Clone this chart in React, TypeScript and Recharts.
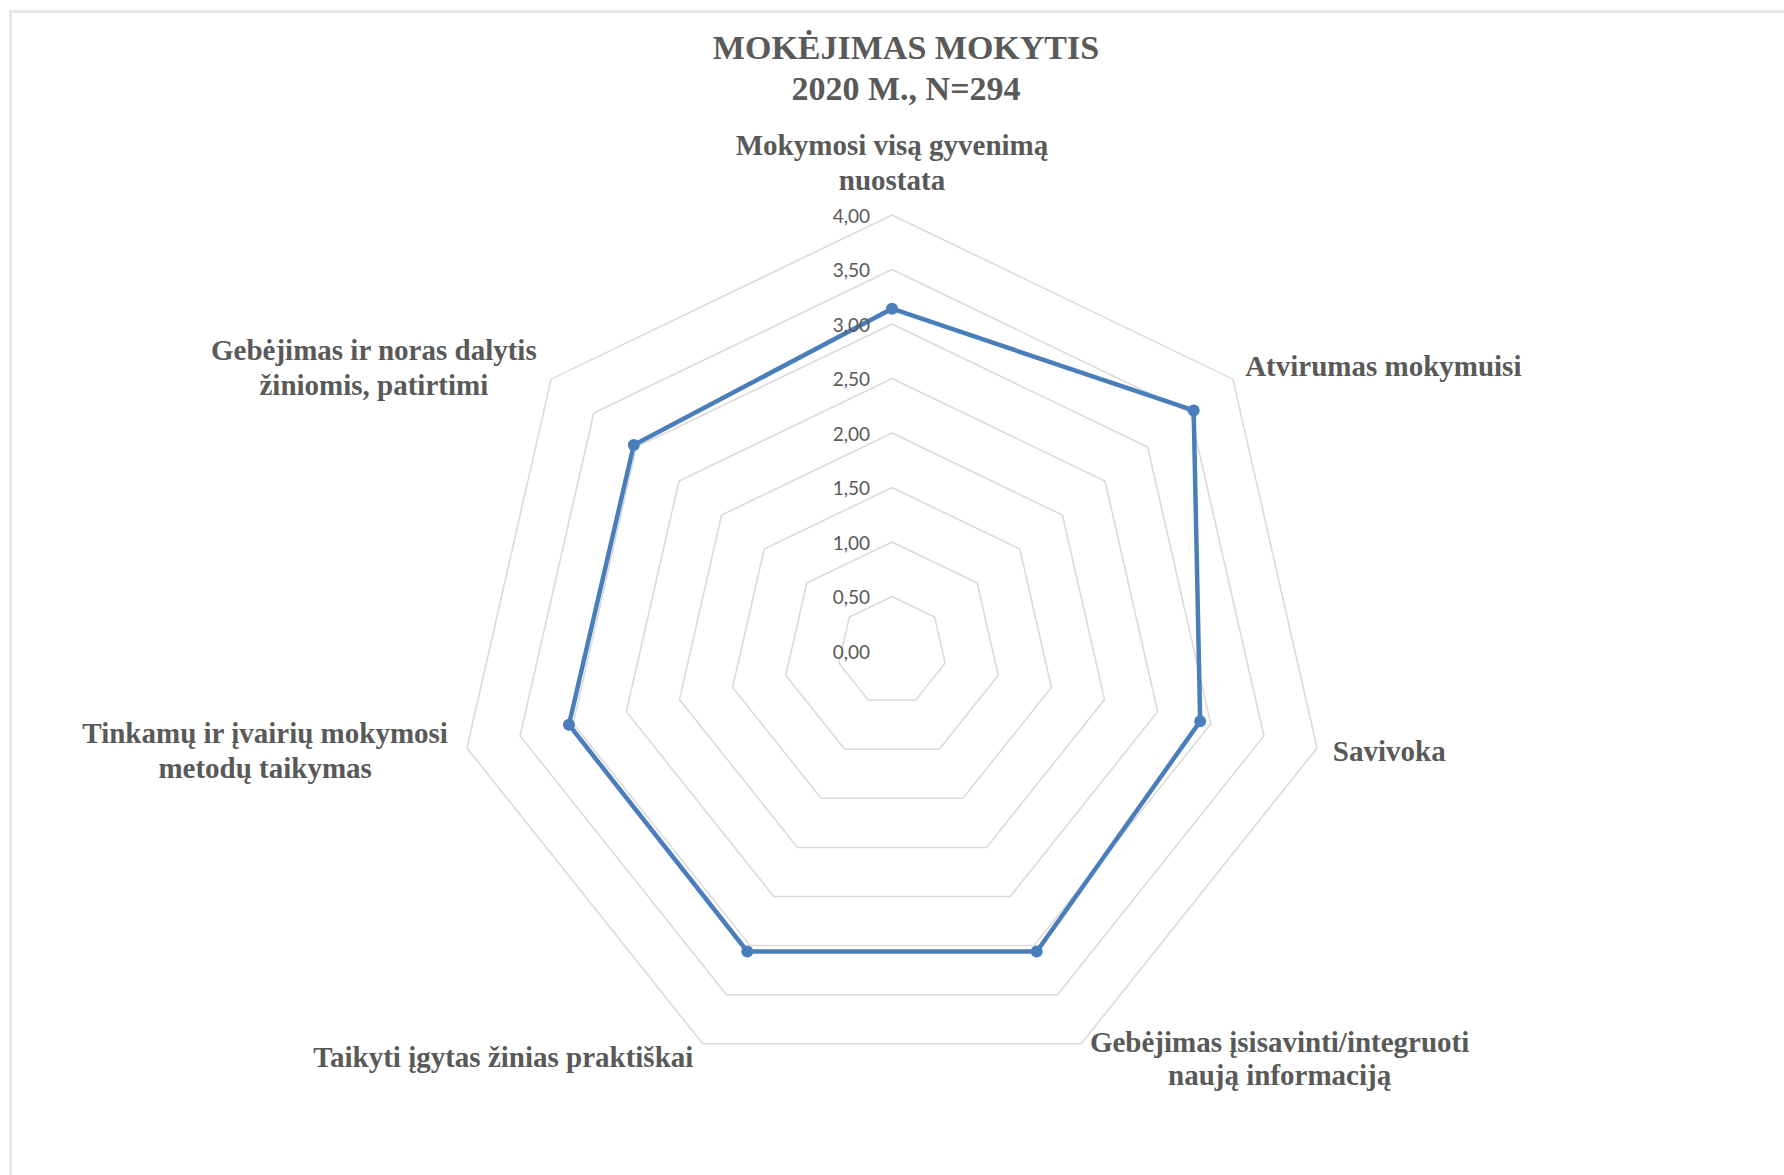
import { RadarChart, Radar, PolarGrid, PolarAngleAxis, PolarRadiusAxis } from "recharts";

const categories = [
  "Mokymosi visą gyvenimą\nnuostata",
  "Atvirumas mokymuisi",
  "Savivoka",
  "Gebėjimas įsisavinti/integruoti\nnaują informaciją",
  "Taikyti įgytas žinias praktiškai",
  "Tinkamų ir įvairių mokymosi\nmetodų taikymas",
  "Gebėjimas ir noras dalytis\nžiniomis, patirtimi",
];

const values = [3.14, 3.54, 2.9, 3.06, 3.06, 3.04, 3.03];

const radiusDomain = [0, 4];
const radiusTicks = [0, 0.5, 1, 1.5, 2, 2.5, 3, 3.5, 4];

const data = categories.map((name, i) => ({ name, value: values[i] }));

const TEXT = "#595959";
const LINE = "#4a7ebb";

// label placement relative to each outer vertex
const LABEL_POS = [
  { dx: 0, dy: [-62, -27], anchor: "middle" },
  { dx: 6, dy: [-8], anchor: "start" },
  { dx: 8, dy: [1], anchor: "start" },
  { dx: 195, dy: [-9, 24], anchor: "middle" },
  { dx: -6, dy: [6], anchor: "end" },
  { dx: -194, dy: [-17, 18], anchor: "middle" },
  { dx: -171, dy: [-24, 11], anchor: "middle" },
];

function AngleTick(props: any) {
  const { x, y, payload, index } = props;
  const pos = LABEL_POS[index] || { dx: 0, dy: [0], anchor: "middle" };
  const lines = String(payload.value).split("\n");
  return (
    <g>
      {lines.map((ln: string, i: number) => (
        <text
          key={i}
          x={x + pos.dx}
          y={y + (pos.dy[i] ?? 0)}
          textAnchor={pos.anchor}
          dominantBaseline="central"
          fontFamily="'Liberation Serif', 'Times New Roman', serif"
          fontWeight="bold"
          fontSize={29}
          fill={TEXT}
        >
          {ln}
        </text>
      ))}
    </g>
  );
}

function RadiusTick(props: any) {
  const { x, y, payload } = props;
  return (
    <text
      x={x - 22}
      y={y}
      textAnchor="end"
      dominantBaseline="central"
      fontFamily="Lato, 'Open Sans', sans-serif"
      fontSize={19}
      fill={TEXT}
    >
      {Number(payload.value).toFixed(2).replace(".", ",")}
    </text>
  );
}

function Dot(props: any) {
  const { cx, cy } = props;
  return <circle cx={cx} cy={cy} r={6} fill={LINE} stroke="none" />;
}

export default function App() {
  return (
    <div style={{ position: "absolute", left: 0, top: 0, width: 1784, height: 1175, background: "#fff", overflow: "hidden" }}>
      <div
        style={{
          position: "absolute",
          left: 9,
          top: 10,
          width: 1775,
          height: 1165,
          borderLeft: "3px solid #e6e6e6",
          borderTop: "3px solid #e6e6e6",
          boxSizing: "border-box",
        }}
      />
      <div
        style={{
          position: "absolute",
          left: 606,
          top: 27,
          width: 600,
          textAlign: "center",
          fontFamily: "'Liberation Serif', 'Times New Roman', serif",
          fontWeight: "bold",
          fontSize: 34,
          lineHeight: "41px",
          color: TEXT,
        }}
      >
        MOKĖJIMAS MOKYTIS
        <br />
        2020 M., N=294
      </div>
      <div style={{ position: "absolute", left: 0, top: 0 }}>
        <RadarChart
          width={1784}
          height={1175}
          data={data}
          cx={892}
          cy={651}
          outerRadius={436}
          startAngle={90}
          endAngle={-270}
          margin={{ top: 0, right: 0, bottom: 0, left: 0 }}
        >
          <PolarGrid gridType="polygon" radialLines={false} stroke="#d9d9d9" strokeWidth={1.5} />
          <PolarAngleAxis dataKey="name" tick={<AngleTick />} tickLine={false} tickSize={0} axisLine={false} />
          <PolarRadiusAxis
            angle={90}
            domain={radiusDomain}
            ticks={radiusTicks as any}
            tickCount={radiusTicks.length}
            tick={<RadiusTick />}
            axisLine={false}
            tickLine={false}
          />
          <Radar
            dataKey="value"
            stroke={LINE}
            strokeWidth={4.5}
            fill="none"
            fillOpacity={0}
            dot={<Dot />}
            isAnimationActive={false}
          />
        </RadarChart>
      </div>
    </div>
  );
}
